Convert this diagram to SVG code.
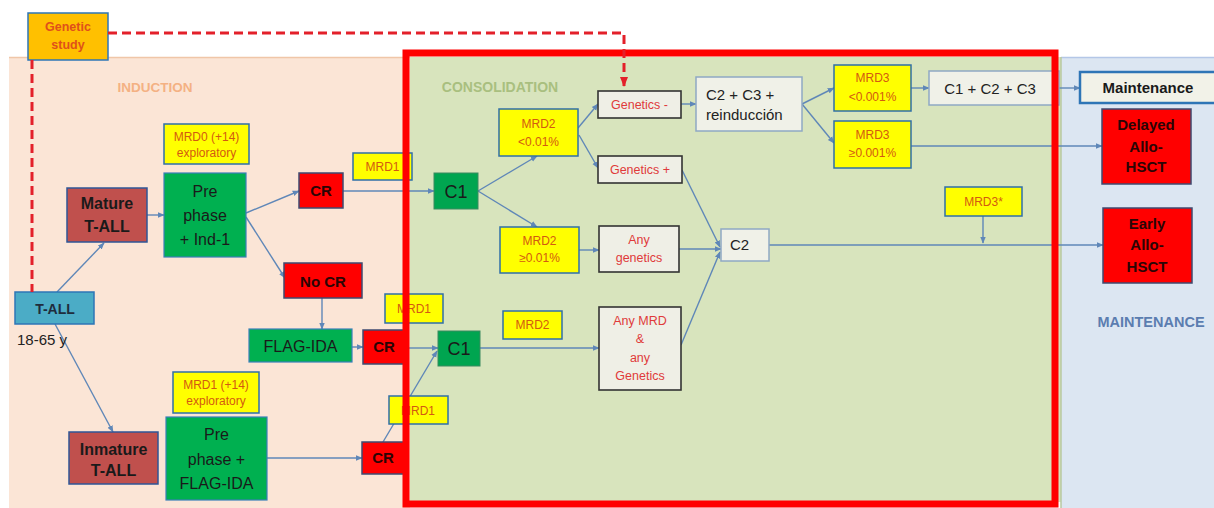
<svg xmlns="http://www.w3.org/2000/svg" width="1214" height="508" viewBox="0 0 1214 508">
<style>
text{font-family:"Liberation Sans",Arial,sans-serif;text-anchor:middle}
.y rect{fill:#ffff00;stroke:#2f6fa8;stroke-width:1.5}
.y text{fill:#d35a10;font-size:12px}
.g rect{fill:#00b050;stroke:#3a7fb8;stroke-width:1.2}
.g text{fill:#1a1a1a;font-size:16px}
.c rect{fill:#00a550;stroke:#3a8a60;stroke-width:1}
.c text{fill:#1a1a1a;font-size:18px}
.r rect{fill:#ff0000;stroke:#3f4a70;stroke-width:1.5}
.r text{fill:#2a0505;font-size:15px;font-weight:bold}
.m rect{fill:#c0504d;stroke:#2f5597;stroke-width:1.5}
.m text{fill:#1a1a1a;font-size:16px;font-weight:bold}
.w rect{fill:#efefe6;stroke:#333;stroke-width:1.6}
.w text{fill:#e03a3a;font-size:12.5px}
.p rect{fill:#f0f1e8;stroke:#8fa8c4;stroke-width:1.5}
.p text{fill:#222;font-size:15px;text-anchor:start}
.conn path{fill:none;stroke:#5f87b8;stroke-width:1.4;marker-end:url(#a)}
.dash{fill:none;stroke:#e3202a;stroke-width:3;stroke-dasharray:9 5}
.lbl{font-weight:bold}
</style>
<defs>
<marker id="a" viewBox="0 0 10 10" refX="9" refY="5" markerWidth="7" markerHeight="7" markerUnits="userSpaceOnUse" orient="auto"><path d="M0,1 L10,5 L0,9 z" fill="#5f87b8"/></marker>
<marker id="ar" viewBox="0 0 10 10" refX="9" refY="5" markerWidth="10" markerHeight="10" markerUnits="userSpaceOnUse" orient="auto"><path d="M0,1 L10,5 L0,9 z" fill="#e3202a"/></marker>
</defs>
<rect width="1214" height="508" fill="#ffffff"/>
<g id="panels">
<rect x="9" y="57" width="401" height="451" fill="#fbe5d6"/>
<line x1="9" y1="57.5" x2="410" y2="57.5" stroke="#f0c6a8" stroke-width="1.5"/>
<rect x="410" y="57" width="651" height="445" fill="#d8e4bd"/>
<rect x="1061" y="57" width="153" height="451" fill="#dce6f2"/>
<line x1="1061" y1="57.5" x2="1214" y2="57.5" stroke="#b4c7e7" stroke-width="1.5"/>
<line x1="1061" y1="57" x2="1061" y2="508" stroke="#b9c9a0" stroke-width="1.5"/>
<text class="lbl" x="155" y="92" font-size="13.5" fill="#f4b183">INDUCTION</text>
<text class="lbl" x="500" y="92" font-size="14" fill="#a9bf7f">CONSOLIDATION</text>
<text class="lbl" x="1151" y="327" font-size="14.5" fill="#5b7db0">MAINTENANCE</text>
</g>
<g id="connectors" class="conn">
<path d="M57,292 L104,243"/>
<path d="M55,324 L113,432"/>
<path d="M147,215 L164,215"/>
<path d="M246,213 L299,191"/>
<path d="M246,217 L285,278"/>
<path d="M343,191 L434,191"/>
<path d="M322,298 L322,329"/>
<path d="M352,347 L363,347"/>
<path d="M407,348 L438,348"/>
<path d="M383,442 L437,351"/>
<path d="M267,458 L362,458"/>
<path d="M478,191 L537,156"/>
<path d="M478,191 L537,227"/>
<path d="M578,128 L598,104"/>
<path d="M579,135 L598,168"/>
<path d="M681,104 L696,104"/>
<path d="M579,250 L599,250"/>
<path d="M682,170 L720,247"/>
<path d="M679,249 L721,249"/>
<path d="M681,345 L720,252"/>
<path d="M480,348 L599,348"/>
<path d="M802,104 L834,88"/>
<path d="M802,104 L834,143"/>
<path d="M911,88 L929,88"/>
<path d="M1055,88 L1080,88"/>
<path d="M911,146 L1102,146"/>
<path d="M769,245 L1103,245"/>
<path d="M983,216 L983,243"/>
</g>
<g id="genetic-study">
<rect x="28" y="13" width="80" height="47" fill="#ffc000" stroke="#2e75b6" stroke-width="1.5"/>
<text x="68" y="31" font-size="12.5" font-weight="bold" fill="#e0501a">Genetic</text>
<text x="68" y="49" font-size="12.5" font-weight="bold" fill="#e0501a">study</text>
</g>
<g id="t-all">
<rect x="15" y="292" width="79" height="32" fill="#4bacc6" stroke="#2e75b6" stroke-width="1.5"/>
<text x="55" y="314" font-size="14" font-weight="bold" fill="#1f2d3d">T-ALL</text>
<text x="17" y="345" font-size="15" fill="#222" style="text-anchor:start">18-65 y</text>
</g>
<g id="mature" class="m"><rect x="67" y="188" width="80" height="54"/><text x="107" y="209">Mature</text><text x="107" y="232">T-ALL</text></g>
<g id="inmature" class="m"><rect x="69" y="432" width="89" height="52"/><text x="113.5" y="455">Inmature</text><text x="113.5" y="476">T-ALL</text></g>
<g id="mrd0" class="y"><rect x="164" y="124" width="85" height="40"/><text x="206.5" y="141" font-size="11">MRD0 (+14)</text><text x="206.5" y="157" font-size="11">exploratory</text></g>
<g id="prephase-ind1" class="g"><rect x="164" y="173" width="82" height="84"/><text x="205" y="197" font-size="17">Pre</text><text x="205" y="221" font-size="17">phase</text><text x="205" y="245" font-size="17">+ Ind-1</text></g>
<g id="cr1" class="r"><rect x="299" y="173" width="44" height="35"/><text x="321" y="196">CR</text></g>
<g id="mrd1a" class="y"><rect x="353" y="153" width="59" height="27"/><text x="382.5" y="171">MRD1</text></g>
<g id="nocr" class="r"><rect x="284" y="263" width="78" height="35"/><text x="323" y="287" font-size="16">No CR</text></g>
<g id="flag-ida" class="g"><rect x="249" y="329" width="103" height="33"/><text x="300.5" y="352">FLAG-IDA</text></g>
<g id="cr2" class="r"><rect x="363" y="330" width="44" height="34"/><text x="384" y="352">CR</text></g>
<g id="mrd1b" class="y"><rect x="385" y="294" width="58" height="29"/><text x="414" y="313">MRD1</text></g>
<g id="mrd1c" class="y"><rect x="173" y="372" width="86" height="41"/><text x="216" y="389" font-size="11">MRD1 (+14)</text><text x="216" y="405" font-size="11">exploratory</text></g>
<g id="prephase-flag" class="g"><rect x="166" y="417" width="101" height="83"/><text x="216.5" y="440" font-size="17">Pre</text><text x="216.5" y="465" font-size="17">phase +</text><text x="216.5" y="489" font-size="17">FLAG-IDA</text></g>
<g id="cr3" class="r"><rect x="362" y="442" width="44" height="32"/><text x="383" y="463">CR</text></g>
<g id="mrd1d" class="y"><rect x="389" y="396" width="59" height="28"/><text x="418" y="415">MRD1</text></g>
<g id="c1a" class="c"><rect x="434" y="173" width="44" height="36"/><text x="456" y="198">C1</text></g>
<g id="c1b" class="c"><rect x="438" y="331" width="42" height="35"/><text x="459" y="355">C1</text></g>
<g id="mrd2a" class="y"><rect x="499" y="109" width="79" height="47"/><text x="538.5" y="128">MRD2</text><text x="538.5" y="146">&lt;0.01%</text></g>
<g id="mrd2b" class="y"><rect x="500" y="227" width="79" height="46"/><text x="539.5" y="245">MRD2</text><text x="539.5" y="262">≥0.01%</text></g>
<g id="mrd2c" class="y"><rect x="503" y="311" width="59" height="28"/><text x="532.5" y="329">MRD2</text></g>
<g id="genetics-neg" class="w"><rect x="598" y="91" width="83" height="27"/><text x="639.5" y="109">Genetics -</text></g>
<g id="genetics-pos" class="w"><rect x="598" y="156" width="84" height="27"/><text x="640" y="174">Genetics +</text></g>
<g id="any-genetics" class="w"><rect x="599" y="226" width="80" height="46"/><text x="639" y="244">Any</text><text x="639" y="262">genetics</text></g>
<g id="any-mrd" class="w"><rect x="599" y="307" width="82" height="83"/><text x="640" y="325">Any MRD</text><text x="640" y="343">&amp;</text><text x="640" y="362">any</text><text x="640" y="380">Genetics</text></g>
<g id="c2c3" class="p"><rect x="696" y="77" width="106" height="54"/><text x="706" y="100">C2 + C3 +</text><text x="706" y="120">reinducción</text></g>
<g id="c2" class="p"><rect x="721" y="229" width="48" height="32"/><text x="730" y="250">C2</text></g>
<g id="mrd3a" class="y"><rect x="834" y="65" width="77" height="46"/><text x="872.5" y="82">MRD3</text><text x="872.5" y="101">&lt;0.001%</text></g>
<g id="mrd3b" class="y"><rect x="834" y="121" width="77" height="47"/><text x="872.5" y="139">MRD3</text><text x="872.5" y="157">≥0.001%</text></g>
<g id="c1c2c3" class="p"><rect x="929" y="71" width="130" height="34"/><text x="990" y="94" font-size="16" style="text-anchor:middle">C1 + C2 + C3</text></g>
<g id="mrd3star" class="y"><rect x="945" y="187" width="77" height="29"/><text x="983.5" y="206">MRD3*</text></g>
<g id="maintenance">
<rect x="1080" y="72" width="140" height="31" fill="#f2f2e8" stroke="#2e75b6" stroke-width="2.5"/>
<text x="1148" y="93" font-size="15" font-weight="bold" fill="#1a1a1a">Maintenance</text>
</g>
<g id="delayed" class="r"><rect x="1102" y="109" width="89" height="75"/><text x="1146" y="130" font-size="14">Delayed</text><text x="1146" y="152" font-size="14">Allo-</text><text x="1146" y="172" font-size="14">HSCT</text></g>
<g id="early" class="r"><rect x="1103" y="208" width="89" height="75"/><text x="1147" y="229" font-size="14">Early</text><text x="1147" y="250" font-size="14">Allo-</text><text x="1147" y="272" font-size="14">HSCT</text></g>
<g id="consolidation-frame">
<rect x="406" y="53" width="649" height="451" fill="none" stroke="#ff0000" stroke-width="7"/>
</g>
<g id="genetic-links">
<path class="dash" d="M108,33 H624 V86" marker-end="url(#ar)"/>
<path class="dash" d="M32,60 V292"/>
</g>
</svg>
